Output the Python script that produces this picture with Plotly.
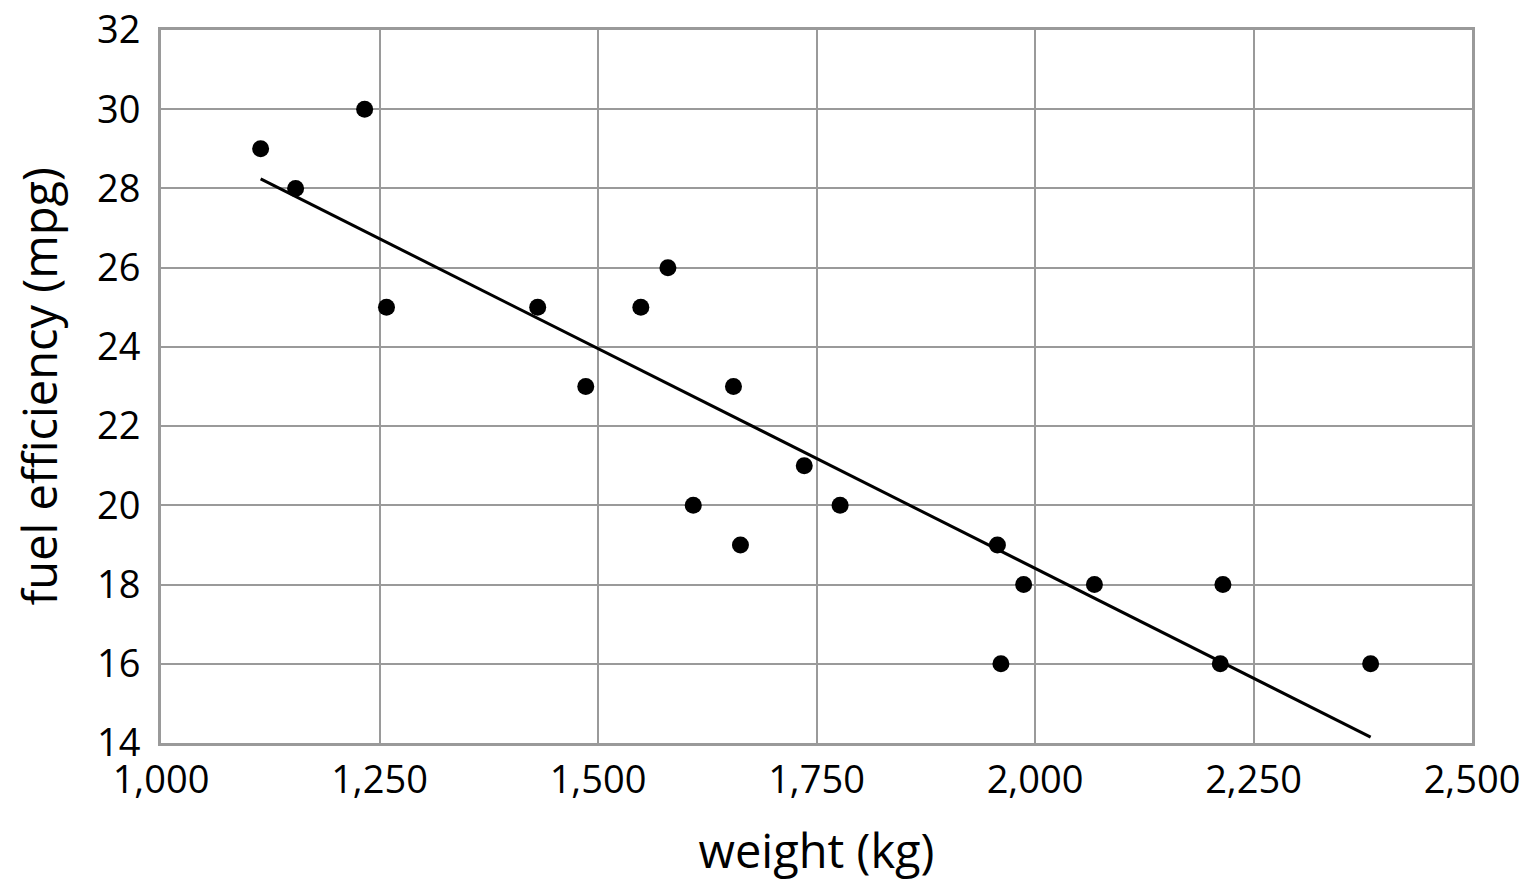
import plotly.graph_objects as go

# datos: peso (kg) vs eficiencia (mpg)
peso = [1114, 1154, 1233, 1258, 1431, 1486, 1549, 1580, 1609, 1655,
        1663, 1736, 1777, 1957, 1961, 1987, 2068, 2212, 2215, 2384]
mpg = [29, 28, 30, 25, 25, 23, 25, 26, 20, 23,
       19, 21, 20, 19, 16, 18, 18, 16, 18, 16]

# recta de ajuste (extremos)
linea_x = [1114, 2384]
linea_y = [28.24, 14.15]

gris = "#9a9a9a"
fuente = "Open Sans, Noto Sans, sans-serif"

fig = go.Figure()
fig.add_trace(go.Scatter(x=linea_x, y=linea_y, mode="lines",
                         line=dict(color="black", width=3), showlegend=False))
fig.add_trace(go.Scatter(x=peso, y=mpg, mode="markers",
                         marker=dict(color="black", size=17), showlegend=False))

# la pagina tiene 8px de margen en el body, se compensa aqui
fig.update_layout(
    width=1530, height=884,
    margin=dict(l=153, r=66, t=22, b=149),
    plot_bgcolor="white", paper_bgcolor="white",
    font=dict(family=fuente, size=38, color="black"),
)
fig.update_xaxes(range=[1000, 2500], dtick=250, tick0=1000, tickformat=",",
                 showgrid=True, gridcolor=gris, gridwidth=2,
                 showline=True, linecolor=gris, linewidth=3, mirror=True,
                 ticks="outside", ticklen=1, tickcolor="rgba(0,0,0,0)",
                 ticklabeloverflow="allow",
                 zeroline=False, automargin=False,
                 title=dict(text="weight (kg)", font=dict(size=47), standoff=33))
fig.update_yaxes(range=[14, 32], dtick=2, tick0=14,
                 showgrid=True, gridcolor=gris, gridwidth=2,
                 showline=True, linecolor=gris, linewidth=3, mirror=True,
                 ticks="outside", ticklen=10, tickcolor="rgba(0,0,0,0)",
                 ticklabeloverflow="allow",
                 zeroline=False, automargin=False)

# titulo del eje y como anotacion (el titulo del eje queda limitado por el margen)
fig.add_annotation(text="fuel efficiency (mpg)", textangle=-90,
                   xref="paper", yref="paper", x=0, y=0.5,
                   xanchor="center", yanchor="middle", xshift=-123,
                   showarrow=False, font=dict(size=47))

fig.write_html("out.html")
